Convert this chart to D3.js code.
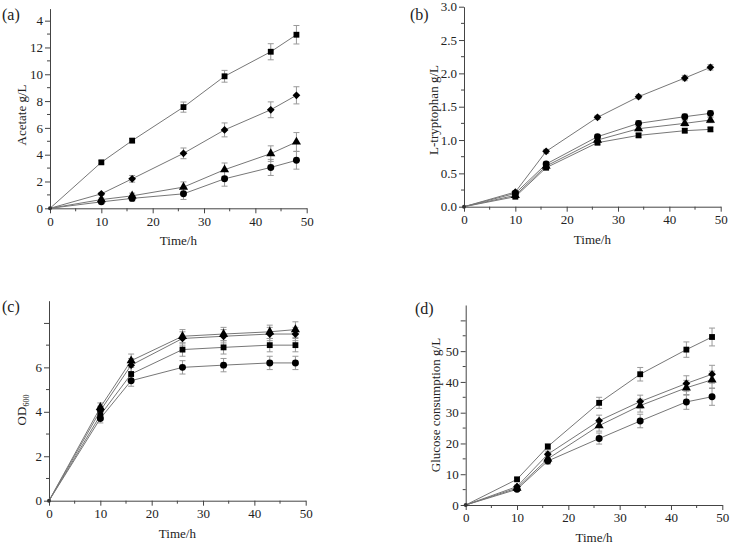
<!DOCTYPE html>
<html>
<head>
<meta charset="utf-8">
<script src="https://cdn.jsdelivr.net/npm/d3@7"></script>
<style>
  html, body { margin: 0; padding: 0; background: #fff; }
  svg { display: block; }
  svg text { font-family: "Liberation Serif", "Times New Roman", Times, serif; fill: #222; }
</style>
</head>
<body>
<svg id="chart" width="730" height="545"></svg>
<script>
// ---------- DATA ----------
const times = [0, 10, 16, 26, 34, 43, 48];
const xTicks = [0, 10, 20, 30, 40, 50];

// (a) Acetate g/L
const acetateSquare   = [0, 3.43, 5.05, 7.55, 9.85, 11.68, 12.95];
const acetateSquareErr = [0, 0.12, 0.16, 0.38, 0.44, 0.6, 0.69];
const acetateDiamond  = [0, 1.08, 2.2, 4.1, 5.85, 7.35, 8.43];
const acetateDiamondErr = [0, 0.1, 0.25, 0.4, 0.52, 0.59, 0.64];
const acetateTriangle = [0, 0.65, 0.93, 1.58, 2.88, 4.08, 4.95];
const acetateTriangleErr = [0, 0.12, 0.2, 0.39, 0.5, 0.58, 0.7];
const acetateCircle   = [0, 0.48, 0.74, 1.08, 2.2, 3.05, 3.58];
const acetateCircleErr = [0, 0.15, 0.2, 0.42, 0.55, 0.6, 0.66];
const acetateYTicks = [0, 2, 4, 6, 8, 10, 12, 14];
const acetateYTickLabels = ["0", "2", "4", "6", "8", "10", "12", "4"];

// (b) L-tryptophan g/L
const trpDiamond  = [0, 0.22, 0.83, 1.34, 1.65, 1.93, 2.09];
const trpDiamondErr = [0, 0.02, 0.03, 0.03, 0.03, 0.04, 0.04];
const trpCircle   = [0, 0.2, 0.64, 1.05, 1.25, 1.35, 1.4];
const trpCircleErr = [0, 0.02, 0.03, 0.03, 0.04, 0.04, 0.04];
const trpTriangle = [0, 0.17, 0.61, 1.0, 1.17, 1.25, 1.3];
const trpTriangleErr = [0, 0.02, 0.03, 0.03, 0.03, 0.04, 0.04];
const trpSquare   = [0, 0.15, 0.585, 0.96, 1.07, 1.14, 1.16];
const trpSquareErr = [0, 0.02, 0.03, 0.03, 0.03, 0.03, 0.03];
const trpYTicks = [0, 0.5, 1.0, 1.5, 2.0, 2.5, 3.0];
const trpYTickLabels = ["0.0", "0.5", "1.0", "1.5", "2.0", "2.5", "3.0"];

// (c) OD600
const odTriangle = [0, 4.2, 6.3, 7.4, 7.5, 7.6, 7.7];
const odTriangleErr = [0, 0.2, 0.3, 0.3, 0.3, 0.3, 0.35];
const odDiamond  = [0, 4.05, 6.1, 7.3, 7.4, 7.5, 7.5];
const odDiamondErr = [0, 0.2, 0.3, 0.3, 0.3, 0.3, 0.3];
const odSquare   = [0, 3.85, 5.7, 6.8, 6.9, 7.0, 7.0];
const odSquareErr = [0, 0.2, 0.3, 0.3, 0.3, 0.3, 0.3];
const odCircle   = [0, 3.7, 5.4, 6.0, 6.1, 6.2, 6.2];
const odCircleErr = [0, 0.2, 0.25, 0.3, 0.3, 0.3, 0.3];
const odYTicks = [0, 2, 4, 6, 8];
const odYTickLabels = ["0", "2", "4", "6", ""];

// (d) Glucose consumption g/L
const gluSquare   = [0, 8.35, 19.0, 33.2, 42.5, 50.5, 54.6];
const gluSquareErr = [0, 0.5, 0.9, 1.8, 2.2, 2.5, 2.9];
const gluDiamond  = [0, 6.0, 16.5, 27.4, 33.6, 39.5, 42.5];
const gluDiamondErr = [0, 0.5, 1.0, 1.8, 2.1, 2.5, 2.9];
const gluTriangle = [0, 5.5, 15.0, 25.8, 32.3, 38.1, 40.7];
const gluTriangleErr = [0, 0.5, 1.0, 1.8, 2.1, 2.4, 2.8];
const gluCircle   = [0, 5.1, 14.3, 21.6, 27.3, 33.5, 35.2];
const gluCircleErr = [0, 0.5, 1.0, 1.8, 2.2, 2.4, 2.8];
const gluYTicks = [0, 10, 20, 30, 40, 50, 60];
const gluYTickLabels = ["0", "10", "20", "30", "40", "50", ""];

// ---------- DRAWING ----------
const svg = d3.select("#chart");
const FONT = "'Liberation Serif', 'Times New Roman', Times, serif";
const AXIS_COLOR = "#444";
const LINE_COLOR = "#777";
const ERR_COLOR = "#999";

function drawPanel(cfg) {
  const g = svg.append("g").attr("font-family", FONT);
  const x = d3.scaleLinear().domain([0, 50]).range([cfg.x0, cfg.x1]);
  const y = d3.scaleLinear().domain([0, cfg.yMax]).range([cfg.y0, cfg.y1]);

  // minor ticks
  const xMinor = d3.range(5, 50, 10);
  g.append("g").selectAll("line").data(xMinor).join("line")
    .attr("x1", d => x(d)).attr("x2", d => x(d))
    .attr("y1", cfg.y0).attr("y2", cfg.y0 + 3)
    .attr("stroke", AXIS_COLOR).attr("stroke-width", 1);
  g.append("g").selectAll("line").data(cfg.yMinor).join("line")
    .attr("y1", d => y(d)).attr("y2", d => y(d))
    .attr("x1", cfg.x0).attr("x2", cfg.x0 - 3)
    .attr("stroke", AXIS_COLOR).attr("stroke-width", 1);

  // x axis
  const xAxis = d3.axisBottom(x).tickValues(xTicks).tickSize(5).tickPadding(3).tickSizeOuter(0)
    .tickFormat(d3.format("d"));
  const gx = g.append("g").attr("transform", `translate(0,${cfg.y0})`).call(xAxis);
  // y axis
  const yAxis = d3.axisLeft(y).tickValues(cfg.yTicks).tickSize(5).tickPadding(2).tickSizeOuter(0)
    .tickFormat((d, i) => cfg.yLabels[i]);
  const gy = g.append("g").attr("transform", `translate(${cfg.x0},0)`).call(yAxis);
  [gx, gy].forEach(a => {
    a.attr("font-family", FONT).attr("font-size", 13);
    a.select(".domain").attr("stroke", AXIS_COLOR);
    a.selectAll(".tick line").attr("stroke", AXIS_COLOR);
    a.selectAll(".tick text").attr("fill", "#222");
  });

  // error bars
  cfg.series.forEach(s => {
    const eg = g.append("g");
    const pts = times.map((t, i) => ({ t, v: s.values[i], e: s.err[i] })).filter(p => p.e > 0);
    eg.selectAll("line.v").data(pts).join("line")
      .attr("x1", p => x(p.t)).attr("x2", p => x(p.t))
      .attr("y1", p => y(p.v - p.e)).attr("y2", p => y(p.v + p.e))
      .attr("stroke", ERR_COLOR).attr("stroke-width", 1);
    [1, -1].forEach(sg => {
      eg.selectAll("line.c" + sg).data(pts).join("line")
        .attr("x1", p => x(p.t) - 3).attr("x2", p => x(p.t) + 3)
        .attr("y1", p => y(p.v + sg * p.e)).attr("y2", p => y(p.v + sg * p.e))
        .attr("stroke", ERR_COLOR).attr("stroke-width", 1);
    });
  });

  // lines
  const line = d3.line().x((d, i) => x(times[i])).y(d => y(d));
  cfg.series.forEach(s => {
    g.append("path").attr("d", line(s.values)).attr("fill", "none")
      .attr("stroke", LINE_COLOR).attr("stroke-width", 1);
  });

  // markers
  const symbols = {
    square: d3.symbol().type(d3.symbolSquare).size(34),
    circle: d3.symbol().type(d3.symbolCircle).size(38),
    triangle: d3.symbol().type(d3.symbolTriangle).size(36),
    diamond: d3.symbol().type(d3.symbolSquare).size(30)
  };
  cfg.series.forEach(s => {
    g.append("g").selectAll("path").data(s.values.slice(1)).join("path")
      .attr("transform", (d, i) => `translate(${x(times[i + 1])},${y(d)})` + (s.shape === "diamond" ? " rotate(45)" : ""))
      .attr("d", symbols[s.shape]).attr("fill", "#000");
  });
  // origin point
  g.append("circle").attr("cx", x(0)).attr("cy", y(0)).attr("r", 2).attr("fill", "#333");

  // panel label
  g.append("text").attr("x", cfg.labelX).attr("y", cfg.labelY)
    .attr("font-size", 16).text(cfg.label);

  // x title
  g.append("text").attr("x", (cfg.x0 + cfg.x1) / 2).attr("y", cfg.y0 + 37)
    .attr("text-anchor", "middle").attr("font-size", 13).text("Time/h");

  // y title
  const yt = g.append("text")
    .attr("transform", `translate(${cfg.yTitleX},${cfg.yTitleY}) rotate(-90)`)
    .attr("text-anchor", "middle").attr("font-size", 13);
  if (cfg.yTitleSub) {
    yt.append("tspan").text(cfg.yTitle);
    yt.append("tspan").attr("font-size", 8).attr("dy", 3).text(cfg.yTitleSub);
  } else {
    yt.text(cfg.yTitle);
  }
}

drawPanel({
  label: "(a)", labelX: 2, labelY: 20,
  x0: 50, x1: 306.7, y0: 208.3, y1: 8.6, yMax: 14.9,
  yTicks: acetateYTicks, yLabels: acetateYTickLabels, yMinor: d3.range(1, 15, 2),
  yTitle: "Acetate g/L", yTitleX: 26, yTitleY: 115,
  series: [
    { shape: "square", values: acetateSquare, err: acetateSquareErr },
    { shape: "diamond", values: acetateDiamond, err: acetateDiamondErr },
    { shape: "triangle", values: acetateTriangle, err: acetateTriangleErr },
    { shape: "circle", values: acetateCircle, err: acetateCircleErr }
  ]
});

drawPanel({
  label: "(b)", labelX: 410, labelY: 20,
  x0: 464, x1: 720.7, y0: 206.7, y1: 6.7, yMax: 3.0,
  yTicks: trpYTicks, yLabels: trpYTickLabels, yMinor: d3.range(0.25, 3.0, 0.5),
  yTitle: "L-tryptophan g/L", yTitleX: 438, yTitleY: 110,
  series: [
    { shape: "diamond", values: trpDiamond, err: trpDiamondErr },
    { shape: "circle", values: trpCircle, err: trpCircleErr },
    { shape: "triangle", values: trpTriangle, err: trpTriangleErr },
    { shape: "square", values: trpSquare, err: trpSquareErr }
  ]
});

drawPanel({
  label: "(c)", labelX: 2, labelY: 312,
  x0: 49, x1: 305.7, y0: 500.7, y1: 300.7, yMax: 9.0,
  yTicks: odYTicks, yLabels: odYTickLabels, yMinor: d3.range(1, 9, 2),
  yTitle: "OD", yTitleSub: "600", yTitleX: 26, yTitleY: 410,
  series: [
    { shape: "triangle", values: odTriangle, err: odTriangleErr },
    { shape: "diamond", values: odDiamond, err: odDiamondErr },
    { shape: "square", values: odSquare, err: odSquareErr },
    { shape: "circle", values: odCircle, err: odCircleErr }
  ]
});

drawPanel({
  label: "(d)", labelX: 415, labelY: 314,
  x0: 465.7, x1: 722.3, y0: 505, y1: 305, yMax: 65,
  yTicks: gluYTicks, yLabels: gluYTickLabels, yMinor: d3.range(5, 65, 10),
  yTitle: "Glucose consumption g/L", yTitleX: 440, yTitleY: 405,
  series: [
    { shape: "square", values: gluSquare, err: gluSquareErr },
    { shape: "diamond", values: gluDiamond, err: gluDiamondErr },
    { shape: "triangle", values: gluTriangle, err: gluTriangleErr },
    { shape: "circle", values: gluCircle, err: gluCircleErr }
  ]
});
</script>
</body>
</html>
